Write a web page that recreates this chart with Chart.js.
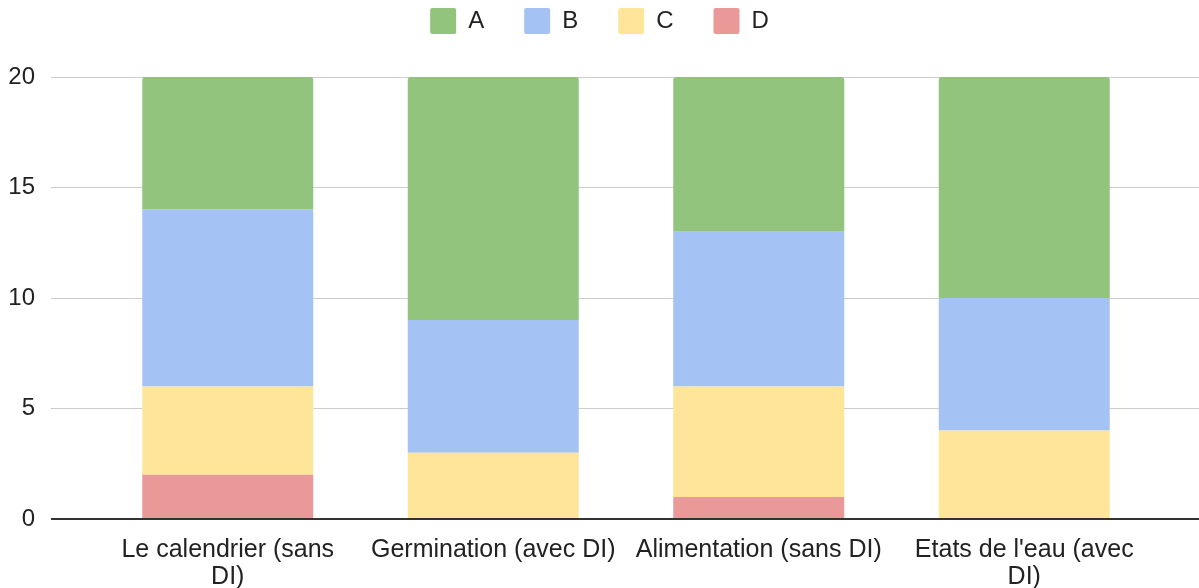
<!DOCTYPE html>
<html>
<head>
<meta charset="utf-8">
<script src="https://cdn.jsdelivr.net/npm/chart.js@4"></script>
<style>
  html, body { margin: 0; padding: 0; background: #fff; }
  #wrap { width: 1199px; height: 588px; }
</style>
</head>
<body>
<div id="wrap"><canvas id="graphique"></canvas></div>
<script>
const categories = [
  ["Le calendrier (sans", "DI)"],
  "Germination (avec DI)",
  "Alimentation (sans DI)",
  ["Etats de l'eau (avec", "DI)"]
];
const serieA = [6, 11, 7, 10];
const serieB = [8, 6, 7, 6];
const serieC = [4, 3, 5, 4];
const serieD = [2, 0, 1, 0];
const yTicks = [0, 5, 10, 15, 20];

Chart.defaults.font.family = "'Liberation Sans', Arial, sans-serif";
Chart.defaults.color = "#222";

// un peu plus d'espace sous la légende
const espaceLegende = {
  id: "espaceLegende",
  beforeInit(chart) {
    const fit = chart.legend.fit;
    chart.legend.fit = function () {
      fit.call(this);
      this.height += 33;
    };
  }
};

const couleurGrille = (ctx) => (ctx.tick && ctx.tick.value === 0 ? "#333" : "#ccc");
const epaisseurGrille = (ctx) => (ctx.tick && ctx.tick.value === 0 ? 2 : 1);

const ctx = document.getElementById("graphique").getContext("2d");
new Chart(ctx, {
  type: "bar",
  data: {
    labels: categories,
    datasets: [
      { label: "D", data: serieD, backgroundColor: "#ea9999" },
      { label: "C", data: serieC, backgroundColor: "#ffe599" },
      { label: "B", data: serieB, backgroundColor: "#a4c2f4" },
      { label: "A", data: serieA, backgroundColor: "#93c47d", borderRadius: 3, borderSkipped: "start" }
    ]
  },
  options: {
    responsive: true,
    maintainAspectRatio: false,
    animation: false,
    events: [],
    layout: { padding: { top: -32 } },
    datasets: {
      bar: { categoryPercentage: 1, barPercentage: 0.644, borderWidth: 0 }
    },
    plugins: {
      tooltip: { enabled: false },
      legend: {
        position: "top",
        reverse: true,
        labels: {
          boxWidth: 26,
          boxHeight: 26,
          padding: 40,
          useBorderRadius: true,
          borderRadius: 2,
          font: { size: 24 },
          color: "#222"
        }
      }
    },
    scales: {
      x: {
        stacked: true,
        afterFit: (axis) => { axis.height = 69; },
        grid: { display: false, drawTicks: false },
        border: { display: false },
        ticks: {
          font: { size: 25, lineHeight: 1.08 },
          color: "#222",
          padding: 18,
          maxRotation: 0,
          autoSkip: false
        }
      },
      y: {
        stacked: true,
        min: 0,
        max: 20,
        afterBuildTicks: (axis) => { axis.ticks = yTicks.map((v) => ({ value: v })); },
        afterFit: (axis) => { axis.width = 95; },
        border: { display: false },
        grid: { color: couleurGrille, lineWidth: epaisseurGrille, drawTicks: true, tickLength: 44 },
        ticks: { font: { size: 24 }, color: "#222", padding: 16 }
      },
      yDroite: {
        position: "right",
        min: 0,
        max: 20,
        afterBuildTicks: (axis) => { axis.ticks = yTicks.map((v) => ({ value: v })); },
        afterFit: (axis) => { axis.width = 42; },
        border: { display: false },
        grid: { color: couleurGrille, lineWidth: epaisseurGrille, drawTicks: true, tickLength: 42 },
        ticks: { display: false }
      }
    }
  },
  plugins: [espaceLegende]
});
</script>
</body>
</html>
